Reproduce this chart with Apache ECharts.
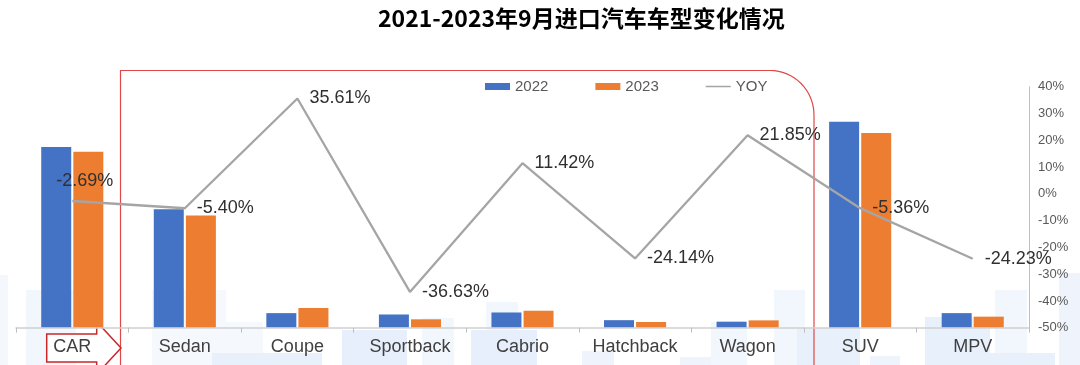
<!DOCTYPE html>
<html>
<head>
<meta charset="utf-8">
<script src="https://cdn.jsdelivr.net/npm/echarts@6/dist/echarts.min.js"></script>
<style>html,body{margin:0;padding:0;background:#fff}#c{width:1080px;height:365px}</style>
</head>
<body>
<div id="c"></div>
<script>
const categories = ['CAR', 'Sedan', 'Coupe', 'Sportback', 'Cabrio', 'Hatchback', 'Wagon', 'SUV', 'MPV'];
const values2022 = [36.0, 23.6, 2.9, 2.63, 3.03, 1.5, 1.2, 41.0, 2.9];
const values2023 = [35.03, 22.33, 3.93, 1.67, 3.38, 1.14, 1.46, 38.8, 2.2];
const yoy = [-2.69, -5.40, 35.61, -36.63, 11.42, -24.14, 21.85, -5.36, -24.23];
const rightTicks = { min: -50, max: 40, interval: 10 };

const bgBlocks = [
  [0, 275, 8, 90, '#F4F7FC'], [26, 290, 50, 75, '#F2F6FD'], [152, 290, 74, 75, '#F5F8FD'],
  [225, 322, 38, 43, '#F5F8FD'], [212, 353, 110, 12, '#E8F0FB'], [342, 330, 65, 35, '#E6EFFB'],
  [422, 318, 32, 47, '#F2F6FD'], [471, 330, 66, 35, '#E6EFFB'], [486, 302, 32, 28, '#F2F6FD'],
  [582, 351, 32, 14, '#EEF3FC'], [680, 357, 35, 8, '#EEF3FC'], [711, 322, 36, 43, '#F2F6FD'],
  [774, 290, 31, 75, '#F2F6FD'], [797, 328, 63, 37, '#E8F0FB'], [870, 356, 30, 9, '#EEF3FC'],
  [925, 317, 65, 48, '#E8F0FB'], [995, 290, 32, 75, '#F2F6FD'], [990, 353, 65, 12, '#E8F0FB'],
  [1059, 273, 21, 92, '#EEF3FC']
];

const chart = echarts.init(document.getElementById('c'));
const graphics = bgBlocks.map(b => ({
  type: 'rect', z: -10, silent: true,
  shape: { x: b[0], y: b[1], width: b[2], height: b[3] },
  style: { fill: b[4] }
}));
// red frame with rounded top-right corner
const framePts = [[120.5, 366], [120.5, 70.5]];
for (let k = 0; k <= 16; k++) {
  const t = -Math.PI / 2 + (Math.PI / 2) * k / 16;
  framePts.push([770 + 44 * Math.cos(t), 115 + 44.5 * Math.sin(t)]);
}
framePts.push([814, 366]);
graphics.push({
  type: 'polyline', z: 1, silent: true,
  shape: { points: framePts },
  style: { fill: null, stroke: '#E04848', lineWidth: 1.2 }
});
graphics.push({
  type: 'polygon', z: 1, silent: true,
  shape: { points: [[46.7, 334], [96.7, 334], [96.7, 321.7], [121, 348], [96.7, 374.3], [96.7, 362], [46.7, 362]] },
  style: { fill: '#fff', stroke: '#C8282A', lineWidth: 1.5 }
});

chart.setOption({
  animation: false,
  backgroundColor: '#fff',
  textStyle: { fontFamily: 'Liberation Sans' },
  title: {
    text: '2021-2023年9月进口汽车车型变化情况',
    left: 373, top: 2,
    textStyle: { fontFamily: 'Noto Sans CJK SC', fontSize: 23, fontWeight: 'bold', color: '#000' }
  },
  legend: {
    left: 485, top: 79, padding: 0, itemGap: 47, itemWidth: 25, itemHeight: 7,
    textStyle: { fontSize: 15, color: '#595959', fontFamily: 'Liberation Sans' },
    data: [
      { name: '2022', icon: 'rect' },
      { name: '2023', icon: 'rect' },
      { name: 'YOY', icon: 'path://M0 2.7 H25 V4.3 H0 Z M0 0 H0.01 V7 H0 Z' }
    ]
  },
  graphic: graphics,
  grid: { left: 16, right: 51, top: 86.7, bottom: 37.3 },
  xAxis: {
    type: 'category', data: categories, z: 5,
    axisLine: { lineStyle: { color: '#D0D0D0', width: 1.5 } },
    axisTick: { show: true, length: 5, lineStyle: { color: '#BFBFBF' } },
    axisLabel: { fontSize: 18, color: '#404040', margin: 10 }
  },
  yAxis: [
    { type: 'value', min: 0, max: 48, show: false, splitLine: { show: false } },
    {
      type: 'value', position: 'right',
      min: rightTicks.min, max: rightTicks.max, interval: rightTicks.interval,
      axisLine: { show: true, lineStyle: { color: '#BFBFBF' } },
      axisTick: { show: false },
      splitLine: { show: false },
      axisLabel: { formatter: '{value}%', fontSize: 13, color: '#595959', margin: 9 }
    }
  ],
  series: [
    { name: '2022', type: 'bar', data: values2022, barWidth: 30, barGap: '7%', itemStyle: { color: '#4472C4' } },
    { name: '2023', type: 'bar', data: values2023, barWidth: 30, barGap: '7%', itemStyle: { color: '#ED7D31' } },
    {
      name: 'YOY', type: 'line', yAxisIndex: 1, symbol: 'circle', symbolSize: 0, showSymbol: true, z: 4,
      data: yoy.map((v, i) => i === 0
        ? { value: v, label: { offset: [-28, -20] } }
        : v),
      lineStyle: { color: '#A5A5A5', width: 2.3 },
      itemStyle: { color: '#A5A5A5' },
      label: {
        show: true, position: 'right', distance: 12,
        formatter: p => p.value.toFixed(2) + '%',
        fontSize: 18, color: '#303030'
      }
    }
  ]
});
</script>
</body>
</html>
